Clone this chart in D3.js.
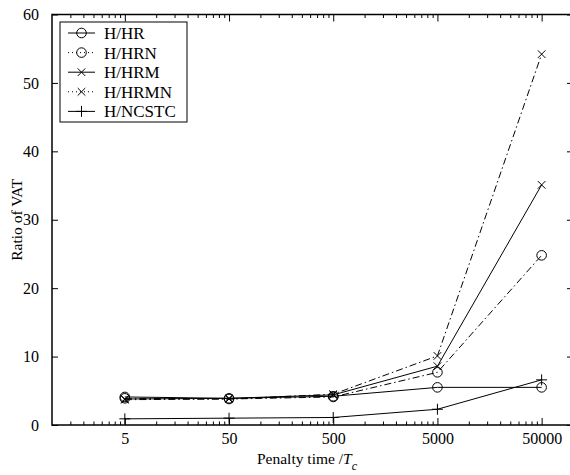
<!DOCTYPE html>
<html>
<head>
<meta charset="UTF-8" />
<style>
  body { margin: 0; background: #fff; }
  svg text { font-family: 'Liberation Serif', 'Times New Roman', Times, 'Nimbus Roman', 'Noto Serif', 'DejaVu Serif', serif; fill: #000; }
</style>
</head>
<body>
<script src="https://cdnjs.cloudflare.com/ajax/libs/d3/7.8.5/d3.min.js"></script>
<script>
const penalty = [5, 50, 500, 5000, 50000];
const tickLabels = ['5', '50', '500', '5000', '50000'];
const yTicks = [0, 10, 20, 30, 40, 50, 60];

const hr    = [4.1, 3.9, 4.2, 5.5, 5.5];
const hrn   = [3.9, 3.8, 4.1, 7.7, 24.8];
const hrm   = [3.8, 3.9, 4.4, 8.6, 35.1];
const hrmn  = [3.7, 3.8, 4.5, 10.1, 54.2];
const ncstc = [0.9, 1.0, 1.1, 2.3, 6.6];

const series = [
  { name: 'H/HR',    values: hr,    marker: 'circle', dash: null },
  { name: 'H/HRN',   values: hrn,   marker: 'circle', dash: '7,3,1.5,3' },
  { name: 'H/HRM',   values: hrm,   marker: 'x',      dash: null },
  { name: 'H/HRMN',  values: hrmn,  marker: 'x',      dash: '7,3,1.5,3' },
  { name: 'H/NCSTC', values: ncstc, marker: 'plus',   dash: null }
];

const W = 570, H = 475;
const pLeft = 52, pTop = 14.5, pRight = 573, pBottom = 425;

const svg = d3.select('body').append('svg')
  .attr('width', W).attr('height', H);

const x = d3.scaleLog().domain([1, 100000]).range([pLeft, pRight]);
const y = d3.scaleLinear().domain([0, 60]).range([pBottom, pTop]);

// minor ticks at half-multiples (MATLAB relabelled decades)
const minor = [];
for (let e = 0; e < 5; e++) {
  for (let k = 3; k <= 9; k++) minor.push(k / 2 * Math.pow(10, e));
  if (e < 4) minor.push(Math.pow(10, e + 1));
}
const minorTicks = minor.filter(v => v > 1 && v < 100000 && penalty.indexOf(v) < 0);

svg.append('rect')
  .attr('x', pLeft).attr('y', pTop)
  .attr('width', pRight - pLeft).attr('height', pBottom - pTop)
  .attr('fill', 'none').attr('stroke', '#000').attr('stroke-width', 1.5);

// x ticks (inward, bottom and top)
const xAxisB = d3.axisBottom(x).tickValues(penalty).tickSize(-7)
  .tickFormat((d, i) => tickLabels[i]).tickPadding(8);
const gxb = svg.append('g').attr('transform', 'translate(0,' + pBottom + ')').call(xAxisB);
gxb.select('.domain').remove();
gxb.attr('font-size', 16);

const gxt = svg.append('g').attr('transform', 'translate(0,' + pTop + ')')
  .call(d3.axisTop(x).tickValues(penalty).tickSize(-7).tickFormat(''));
gxt.select('.domain').remove();

svg.append('g').attr('transform', 'translate(0,' + pBottom + ')')
  .call(d3.axisBottom(x).tickValues(minorTicks).tickSize(-3.5).tickFormat(''))
  .select('.domain').remove();
svg.append('g').attr('transform', 'translate(0,' + pTop + ')')
  .call(d3.axisTop(x).tickValues(minorTicks).tickSize(-3.5).tickFormat(''))
  .select('.domain').remove();

// y ticks (inward, left and right)
const gyl = svg.append('g').attr('transform', 'translate(' + pLeft + ',0)')
  .call(d3.axisLeft(y).tickValues(yTicks).tickSize(-6).tickPadding(13));
gyl.select('.domain').remove();
gyl.attr('font-size', 16);
svg.append('g').attr('transform', 'translate(' + pRight + ',0)')
  .call(d3.axisRight(y).tickValues(yTicks).tickSize(-6).tickFormat(''))
  .select('.domain').remove();

svg.selectAll('.tick line').attr('stroke', '#000').attr('stroke-width', 1);

// labels
const xl = svg.append('text').attr('x', 307).attr('y', 464)
  .attr('text-anchor', 'middle').attr('font-size', 15.5);
xl.append('tspan').text('Penalty time /');
xl.append('tspan').attr('font-style', 'italic').text('T');
xl.append('tspan').attr('font-style', 'italic').attr('dy', 6).attr('font-size', 12).text('c');

svg.append('text')
  .attr('transform', 'translate(22,' + (pTop + pBottom) / 2 + ') rotate(-90)')
  .attr('text-anchor', 'middle').attr('font-size', 15.5).text('Ratio of VAT');

function drawMarker(g, type, cx, cy) {
  if (type === 'circle') {
    g.append('circle').attr('cx', cx).attr('cy', cy).attr('r', 4.8)
      .attr('fill', 'none').attr('stroke', '#000').attr('stroke-width', 1);
  } else if (type === 'x') {
    const s = 3.8;
    g.append('path')
      .attr('d', `M${cx - s},${cy - s}L${cx + s},${cy + s}M${cx - s},${cy + s}L${cx + s},${cy - s}`)
      .attr('stroke', '#000').attr('stroke-width', 1);
  } else {
    const s = 5.5;
    g.append('path')
      .attr('d', `M${cx - s},${cy}L${cx + s},${cy}M${cx},${cy - s}L${cx},${cy + s}`)
      .attr('stroke', '#000').attr('stroke-width', 1);
  }
}

const line = d3.line().x(d => x(d[0])).y(d => y(d[1]));
const plot = svg.append('g');
series.forEach(s => {
  const pts = penalty.map((p, i) => [p, s.values[i]]);
  plot.append('path').datum(pts).attr('d', line)
    .attr('fill', 'none').attr('stroke', '#000').attr('stroke-width', 1)
    .attr('stroke-dasharray', s.dash);
  pts.forEach(p => drawMarker(plot, s.marker, x(p[0]), y(p[1])));
});

// legend
const lg = svg.append('g');
lg.append('rect').attr('x', 60).attr('y', 22).attr('width', 127).attr('height', 100)
  .attr('fill', '#fff').attr('stroke', '#000').attr('stroke-width', 1);
series.forEach((s, i) => {
  const ly = 33 + i * 19.6;
  lg.append('line').attr('x1', 68).attr('x2', 95).attr('y1', ly).attr('y2', ly)
    .attr('stroke', '#000').attr('stroke-width', 1)
    .attr('stroke-dasharray', s.dash ? '1,3' : null);
  drawMarker(lg, s.marker, 81.5, ly);
  lg.append('text').attr('x', 104).attr('y', ly + 6).attr('font-size', 17).text(s.name);
});
</script>
</body>
</html>
